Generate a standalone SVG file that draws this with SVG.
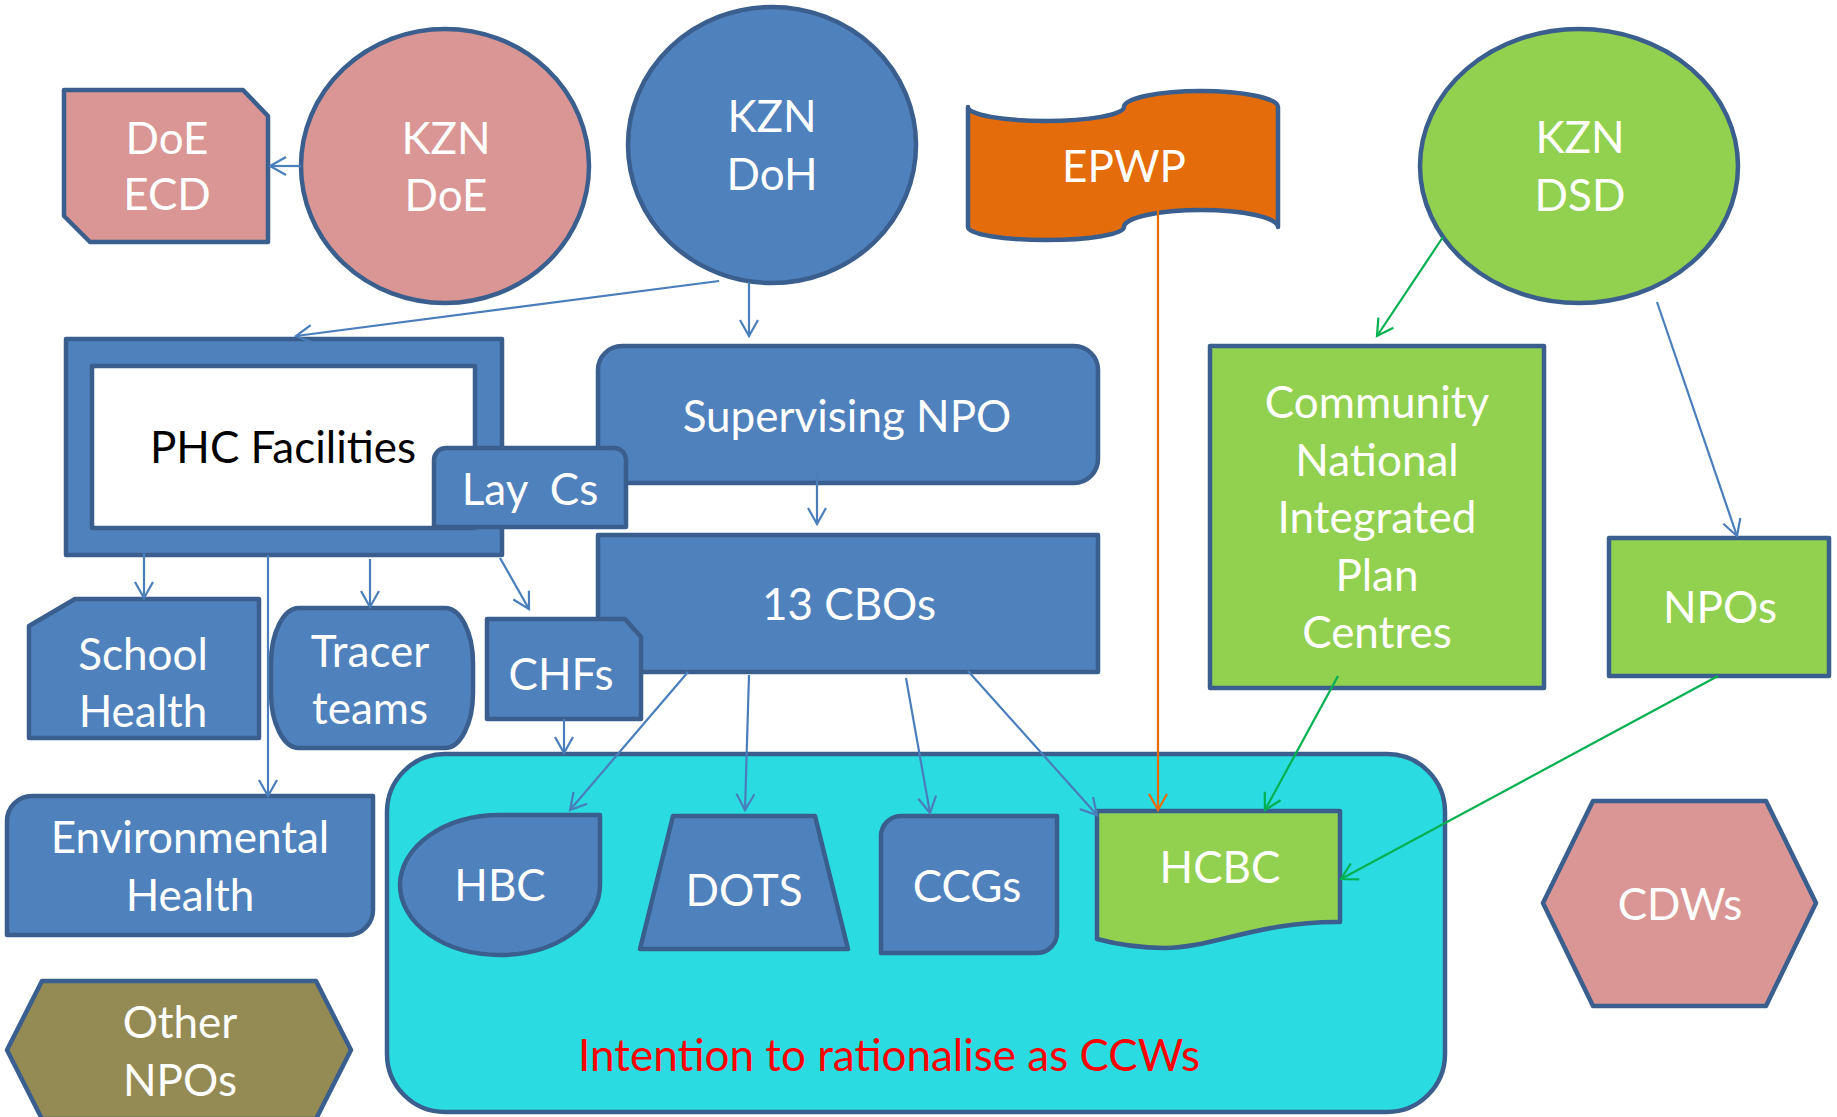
<svg xmlns="http://www.w3.org/2000/svg" width="1837" height="1117" viewBox="0 0 1837 1117">
<defs>
<style>
.sh{stroke:#3a5f8e;stroke-width:4.5;stroke-linejoin:round}
.b{fill:#4f81bd}
.p{fill:#d99694}
.g{fill:#92d050}
.o{fill:#e46c0a}
.ol{fill:#948a54}
.cy{fill:#2adbe1}
.t{font-family:Lato,"Liberation Sans",sans-serif;font-size:44px;fill:#fff;text-anchor:middle}
.k{fill:#000}
.r{fill:#ff0000}
.c{fill:none;stroke:#4a7ebb;stroke-width:2.2;marker-end:url(#ab)}
.cg{stroke:#00b050;marker-end:url(#ag)}
.co{stroke:#e46c0a;marker-end:url(#ao)}
</style>
<marker id="ab" viewBox="0 0 20 20" markerWidth="20" markerHeight="20" markerUnits="userSpaceOnUse" refX="17" refY="10" orient="auto"><path d="M1,1 L17,10 L1,19" fill="none" stroke="#4a7ebb" stroke-width="2.2"/></marker>
<marker id="ag" viewBox="0 0 20 20" markerWidth="20" markerHeight="20" markerUnits="userSpaceOnUse" refX="17" refY="10" orient="auto"><path d="M1,1 L17,10 L1,19" fill="none" stroke="#00b050" stroke-width="2.2"/></marker>
<marker id="ao" viewBox="0 0 20 20" markerWidth="20" markerHeight="20" markerUnits="userSpaceOnUse" refX="17" refY="10" orient="auto"><path d="M1,1 L17,10 L1,19" fill="none" stroke="#e46c0a" stroke-width="2.2"/></marker>
</defs>
<rect width="1837" height="1117" fill="#fff"/>
<g id="container">
<rect class="sh cy" x="387" y="754" width="1058" height="358" rx="58"/>
<text class="t r" x="889" y="1071">Intention to rationalise as CCWs</text>
</g>
<g id="doe-ecd">
<path class="sh p" d="M64,90 H243 L268,116 V242 H90 L64,216 Z"/>
<text class="t" x="167" y="154">DoE</text>
<text class="t" x="167" y="210">ECD</text>
</g>
<g id="kzn-doe">
<ellipse class="sh p" cx="445" cy="166" rx="144" ry="137"/>
<text class="t" x="446" y="154">KZN</text>
<text class="t" x="446" y="211">DoE</text>
</g>
<g id="kzn-doh">
<ellipse class="sh b" cx="772" cy="145" rx="144" ry="138"/>
<text class="t" x="772" y="132">KZN</text>
<text class="t" x="772" y="190">DoH</text>
</g>
<g id="epwp">
<path class="sh o" d="M968,107 A78,14 0 0 0 1124,107 A77,16 0 0 1 1278,107 V227 A77,17 0 0 0 1124,227 A78,13 0 0 1 968,227 Z"/>
<text class="t" x="1124" y="182">EPWP</text>
</g>
<g id="kzn-dsd">
<ellipse class="sh g" cx="1579" cy="166" rx="159" ry="137"/>
<text class="t" x="1580" y="153">KZN</text>
<text class="t" x="1580" y="211">DSD</text>
</g>
<g id="phc">
<rect class="sh b" x="66" y="339" width="436" height="216"/>
<rect class="sh" fill="#fff" x="92" y="366" width="383" height="162"/>
<text class="t k" x="283" y="463">PHC Facilities</text>
</g>
<g id="supervising-npo">
<rect class="sh b" x="598" y="346" width="500" height="137" rx="24"/>
<text class="t" x="847" y="432">Supervising NPO</text>
</g>
<g id="lay-cs">
<path class="sh b" d="M434,527 V460 A12,12 0 0 1 446,448 H614 A12,12 0 0 1 626,460 V527 Z"/>
<text class="t" x="530" y="505" xml:space="preserve">Lay  Cs</text>
</g>
<g id="cbos">
<rect class="sh b" x="598" y="535" width="500" height="137"/>
<text class="t" x="849" y="620">13 CBOs</text>
</g>
<g id="school-health">
<path class="sh b" d="M75,599 H259 V738 H29 V626 Z"/>
<text class="t" x="143" y="670">School</text>
<text class="t" x="143" y="727">Health</text>
</g>
<g id="tracer-teams">
<path class="sh b" d="M299,608 H445 A28,55 0 0 1 473,663 V693 A28,55 0 0 1 445,748 H299 A28,55 0 0 1 271,693 V663 A28,55 0 0 1 299,608 Z"/>
<text class="t" x="370" y="667">Tracer</text>
<text class="t" x="370" y="724">teams</text>
</g>
<g id="chfs">
<path class="sh b" d="M487,619 H625 L641,637 V719 H487 Z"/>
<text class="t" x="561" y="690">CHFs</text>
</g>
<g id="environmental-health">
<path class="sh b" d="M32,796 H373 V910 A25,25 0 0 1 348,935 H7 V821 A25,25 0 0 1 32,796 Z"/>
<text class="t" x="190" y="853">Environmental</text>
<text class="t" x="190" y="911">Health</text>
</g>
<g id="other-npos">
<path class="sh ol" d="M42,981 H316 L351,1050 L316,1119 H42 L7,1050 Z"/>
<text class="t" x="180" y="1038">Other</text>
<text class="t" x="180" y="1096">NPOs</text>
</g>
<g id="hbc">
<path class="sh b" d="M500,815 H600 V885 A100,70 0 1 1 500,815 Z"/>
<text class="t" x="500" y="901">HBC</text>
</g>
<g id="dots">
<path class="sh b" d="M673,816 H815 L848,949 H640 Z"/>
<text class="t" x="744" y="906">DOTS</text>
</g>
<g id="ccgs">
<path class="sh b" d="M901,816 H1057 V933 A20,20 0 0 1 1037,953 H881 V836 A20,20 0 0 1 901,816 Z"/>
<text class="t" x="967" y="902">CCGs</text>
</g>
<g id="hcbc">
<path class="sh g" d="M1097,811 H1340 V922 C1260,921 1212,948 1165,948 C1135,948 1112,943 1097,939 Z"/>
<text class="t" x="1220" y="883">HCBC</text>
</g>
<g id="community">
<rect class="sh g" x="1210" y="346" width="334" height="342"/>
<text class="t" x="1377" y="418">Community</text>
<text class="t" x="1377" y="476">National</text>
<text class="t" x="1377" y="533">Integrated</text>
<text class="t" x="1377" y="591">Plan</text>
<text class="t" x="1377" y="648">Centres</text>
</g>
<g id="npos">
<rect class="sh g" x="1609" y="538" width="220" height="138"/>
<text class="t" x="1720" y="623">NPOs</text>
</g>
<g id="cdws">
<path class="sh p" d="M1593,801 H1766 L1816,903 L1766,1006 H1593 L1543,903 Z"/>
<text class="t" x="1680" y="920">CDWs</text>
</g>
<g id="connectors">
<line class="c" x1="301" y1="166" x2="270" y2="166"/>
<line class="c" x1="749" y1="282" x2="749" y2="336"/>
<line class="c" x1="719" y1="281" x2="296" y2="336"/>
<line class="c" x1="817" y1="473" x2="817" y2="524"/>
<line class="c" x1="144" y1="552" x2="144" y2="598"/>
<line class="c" x1="370" y1="559" x2="370" y2="607"/>
<line class="c" x1="500" y1="558" x2="529" y2="609"/>
<line class="c" x1="268" y1="555" x2="268" y2="796"/>
<line class="c" x1="564" y1="719" x2="564" y2="753"/>
<line class="c" x1="688" y1="672" x2="570" y2="810"/>
<line class="c" x1="749" y1="675" x2="745" y2="810"/>
<line class="c" x1="906" y1="678" x2="930" y2="813"/>
<line class="c" x1="968" y1="671" x2="1097" y2="815"/>
<line class="c" x1="1657" y1="302" x2="1737" y2="536"/>
<line class="c co" x1="1158" y1="210" x2="1158" y2="810"/>
<line class="c cg" x1="1443" y1="237" x2="1377" y2="336"/>
<line class="c cg" x1="1338" y1="676" x2="1265" y2="810"/>
<line class="c cg" x1="1718" y1="676" x2="1341" y2="879"/>
</g>
</svg>
